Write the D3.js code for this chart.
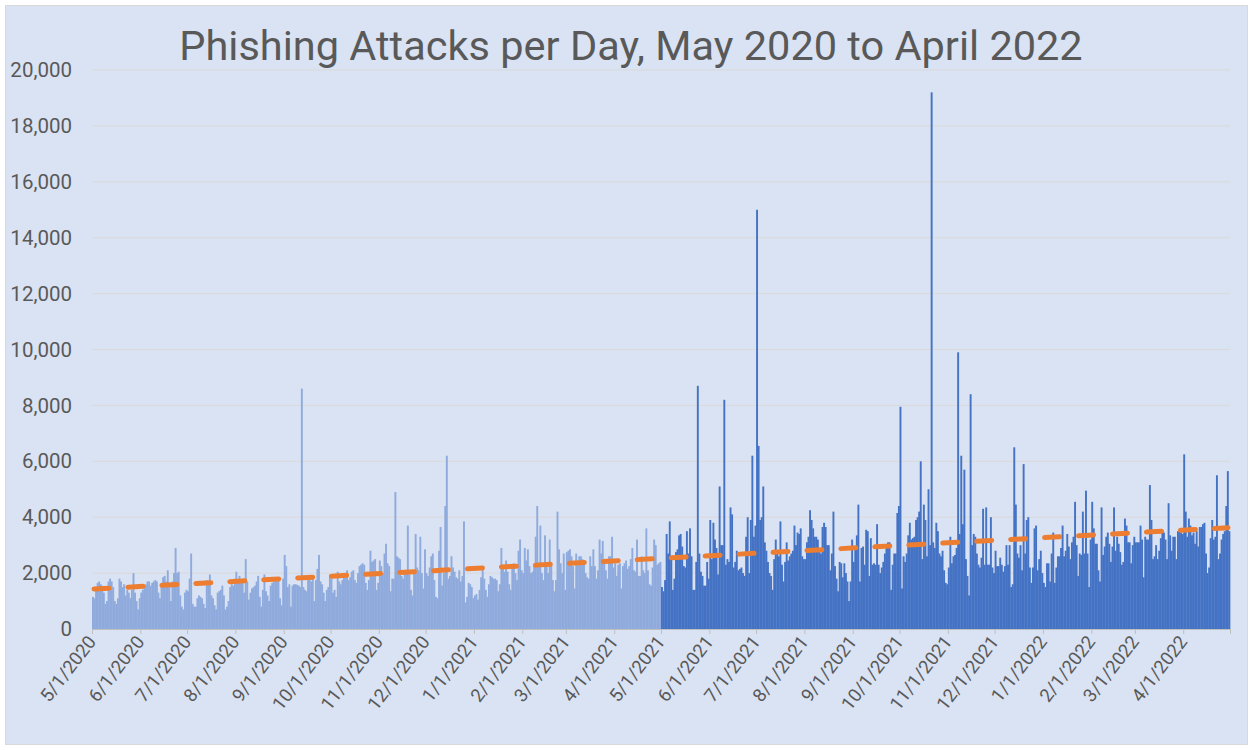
<!DOCTYPE html>
<html><head><meta charset="utf-8">
<script src="https://cdn.jsdelivr.net/npm/d3@7"></script>
<style>body{margin:0;background:#fff}svg{display:block}text{font-family:Roboto,"Noto Sans",sans-serif}</style>
</head><body><svg id="c" width="1253" height="750"></svg>
<script>
const title = "Phishing Attacks per Day, May 2020 to April 2022";
const startDate = "2020-05-01";
// daily phishing attacks, May 1 2020 – Apr 30 2021
const year1 = [
1150,1100,1500,1650,1700,1600,1550,1300,900,1000,
1700,1800,1700,1500,1000,900,1100,1800,1700,1500,
1600,1200,1400,1300,1100,1400,2000,1300,1000,700,
1100,1300,1400,1500,1600,1700,1700,1550,1650,1700,
1750,1700,1300,1100,1500,1850,1900,1700,2100,1600,
1000,1700,2000,2900,2000,2050,1200,800,700,1300,
1400,1350,1800,2700,900,
800,800,1100,1200,1150,1100,900,750,1750,1700,
1950,1200,1100,850,700,1300,1350,1400,1550,1200,
700,800,1000,1500,1600,1550,1800,2050,1700,1900,
1750,1650,1300,2500,1700,1050,1300,1450,1500,1550,
1700,1900,1150,800,1400,1950,1350,1200,1000,1550,
1650,1700,1750,1700,1750,1100,850,1800,2650,2250,
1500,1600,800,1550,1600,1600,
1580,1550,1500,8600,1500,1400,1350,1750,1800,1700,
1900,1000,1750,2150,2650,1700,1600,1300,1000,1400,
1500,1950,1800,1300,1400,1150,2050,1700,1600,1750,
1950,1850,2100,1750,1850,2050,2100,1750,1650,2000,
2250,2300,2350,2300,1650,1400,1750,2800,2400,2450,
2500,1400,1650,2450,2250,2000,2700,3050,2350,2250,
1350,1800,1800,4900,2600,2550,2500,
1900,1800,2000,2100,3700,1950,1400,1200,2000,3400,
2200,2100,3300,2000,1450,2850,2000,1900,2200,2600,
2700,1750,1150,1100,2800,3650,1550,2000,4400,6200,
1800,1900,2600,2200,2050,1850,1800,2100,1700,1900,
3850,950,1150,1650,1600,1500,1100,1200,1250,1050,
1400,1850,2200,1800,1400,1150,1600,1900,1850,1800,
1800,1750,1350,1600,2900,2200,2050,
2450,2050,1600,1400,2250,2350,2000,1750,2800,3200,
2100,2000,2900,2450,2850,2250,2000,2050,2250,3300,
4400,2250,3700,2000,1750,3350,2250,2000,3200,2250,
1750,1350,1750,4200,2850,2350,2000,2700,1400,2750,
2800,2850,2600,2250,1450,2700,2350,2600,2600,2500,
2300,2000,1850,1800,2600,2250,2850,2250,1800,2100,
3200,2700,3150,2400,2100,1800,2600,
2600,3300,2200,2350,1900,2300,2350,1450,2250,2350,
2450,2150,2250,2500,2900,2100,2050,3200,1900,1900,
2600,2100,2000,3600,2100,1600,1550,2200,3200,3000,
2300,2350,2400
];
// daily phishing attacks, May 1 2021 – Apr 30 2022
const year2 = [
1500,1350,1750,3400,2700,3850,2600,1400,1800,2750,
2850,3350,3400,2950,2250,2200,3500,2700,3600,2600,
1400,1400,2400,8700,2700,2050,1900,1550,1550,2400,
1800,3900,2500,3800,
3200,2900,1950,5100,3000,3000,8200,2300,2500,2400,
4350,4100,2200,2400,2800,2100,2150,2200,2000,1900,
3300,4000,2000,3900,6200,3300,3700,15000,6550,3900,
4000,5100,3100,2800,2400,2000,1900,1400,2500,3200,
2800,2600,3850,2300,1700,2400,3100,2450,2600,2700,
2800,3700,3000,3450,3400,3600,2600,2500,2500,3100,
3300,4250,3900,3600,3300,3300,
3200,2800,2700,3650,3800,3650,3000,3000,2100,2700,
4200,2250,1800,1350,2400,2350,1850,2350,2000,1700,
1000,1700,3200,2400,2900,3350,4450,1700,2900,2950,
2300,3550,3500,1900,3250,2300,2350,2300,3750,2300,
2000,2200,2400,2700,3000,3100,3100,1400,2300,2700,
2700,4150,4400,7950,1450,2600,2400,2700,3350,3800,
3200,3250,3300,3900,4000,4200,
6000,2500,4450,3900,2600,5000,3000,19200,3100,2900,
3800,3500,2700,2600,2800,2100,1650,1600,2200,3300,
2350,2600,2650,2900,9900,3400,6200,3750,5700,2500,
1900,1200,8400,3000,3400,3300,2700,2300,2200,2550,
4300,2300,4350,2300,2300,4000,2200,2000,2800,2250,
2250,2550,2300,2050,2250,3000,2300,3000,1500,1600,
6500,4450,2700,2550,3000,2100,5900,2700,
3900,4000,2200,1650,2200,3600,3700,2100,2500,2800,
2000,1650,1500,2350,2350,1700,2700,3450,1650,2200,
2600,2600,2900,3700,2600,2800,3400,2950,2500,3100,
3300,4550,3000,1900,2700,2650,4200,2700,4950,2700,
1500,3200,4550,3600,3050,3050,2100,1700,4350,2650,
2950,3300,3450,3050,2400,2950,4350,2800,3300,3050,
2750,2300,2400,3950,3700,3100,
3100,2350,3000,3300,3100,3100,3100,3700,3200,1850,
3300,3200,3200,5150,3900,2500,2600,3000,2500,2800,
3250,3550,3450,3200,2500,4500,3350,2800,3300,3300,
2500,3500,3500,3450,3400,6250,4200,3300,3950,3700,
3350,3450,3050,3500,2950,3650,3650,3750,3800,2700,
2000,2200,3250,3900,3200,3300,5500,2500,2700,3200,
3400,3500,4400,5650,3500
];
const monthLabels = ["5/1/2020","6/1/2020","7/1/2020","8/1/2020","9/1/2020","10/1/2020","11/1/2020","12/1/2020","1/1/2021","2/1/2021","3/1/2021","4/1/2021","5/1/2021","6/1/2021","7/1/2021","8/1/2021","9/1/2021","10/1/2021","11/1/2021","12/1/2021","1/1/2022","2/1/2022","3/1/2022","4/1/2022"];
const yTicks = [0,2000,4000,6000,8000,10000,12000,14000,16000,18000,20000];

const svg = d3.select("#c");
const W = 1253, H = 750;
const m = {l:92, r:1230, t:70, b:629};

svg.append("rect").attr("x",5.5).attr("y",5.5).attr("width",W-11).attr("height",H-11)
  .attr("fill","#dae3f3").attr("stroke","#d9d9d9").attr("stroke-width",1);

const parse = d3.utcParse("%Y-%m-%d");
const t0 = parse(startDate);
const data = [];
year1.forEach((v,i)=>data.push({d:d3.utcDay.offset(t0,i),v,yr:1}));
year2.forEach((v,i)=>data.push({d:d3.utcDay.offset(t0,year1.length+i),v,yr:2}));
const tEnd = d3.utcDay.offset(t0,data.length);

const x = d3.scaleUtc().domain([t0,tEnd]).range([m.l,m.r]);
const y = d3.scaleLinear().domain([0,20000]).range([m.b,m.t]);

svg.append("g").selectAll("line").data(yTicks.filter(d=>d>0)).join("line")
  .attr("x1",m.l).attr("x2",m.r).attr("y1",d=>y(d)).attr("y2",d=>y(d))
  .attr("stroke","#d9d9d9").attr("stroke-width",1);

svg.append("g").selectAll("text").data(yTicks).join("text")
  .attr("x",72).attr("y",d=>y(d)).attr("dy","0.35em").attr("text-anchor","end")
  .attr("font-size",20.5).attr("fill","#595959").text(d=>d3.format(",")(d));

svg.append("g").selectAll("rect").data(data).join("rect")
  .attr("x",d=>x(d.d)).attr("width",d=>x(d3.utcDay.offset(d.d,1))-x(d.d)+0.35)
  .attr("y",d=>y(d.v)).attr("height",d=>y(0)-y(d.v))
  .attr("fill",d=>d.yr===1?"#8faadc":"#4472c4");

const monthStarts = monthLabels.map(s=>d3.utcParse("%m/%d/%Y")(s));
const ax = svg.append("g").attr("transform",`translate(0,${m.b})`)
  .call(d3.axisBottom(x).tickValues(monthStarts.concat([tEnd])).tickSize(5).tickFormat(""));
ax.select(".domain").attr("stroke","#bfbfbf");
ax.selectAll(".tick line").attr("stroke","#bfbfbf");

svg.append("g").selectAll("text").data(monthLabels).join("text")
  .attr("transform",(s,i)=>`translate(${x(monthStarts[i])+5},${m.b+13}) rotate(-52)`)
  .attr("text-anchor","end").attr("font-size",18.5).attr("fill","#595959").text(s=>s);

// linear trendline (least squares)
const n = data.length;
const xs = d3.range(n);
const mx = d3.mean(xs), my = d3.mean(data,d=>d.v);
const slope = d3.sum(xs,i=>(i-mx)*(data[i].v-my))/d3.sum(xs,i=>(i-mx)*(i-mx));
const icpt = my - slope*mx;
svg.append("line")
  .attr("x1",x(t0)+2).attr("x2",x(tEnd)-2)
  .attr("y1",y(icpt)).attr("y2",y(icpt+slope*(n-1)))
  .attr("stroke","#ed7d31").attr("stroke-width",5).attr("stroke-linecap","round")
  .attr("stroke-dasharray","15 19");

svg.append("text").attr("x",631).attr("y",60).attr("text-anchor","middle")
  .attr("font-size",41.5).attr("fill","#595959").text(title);
</script></body></html>
